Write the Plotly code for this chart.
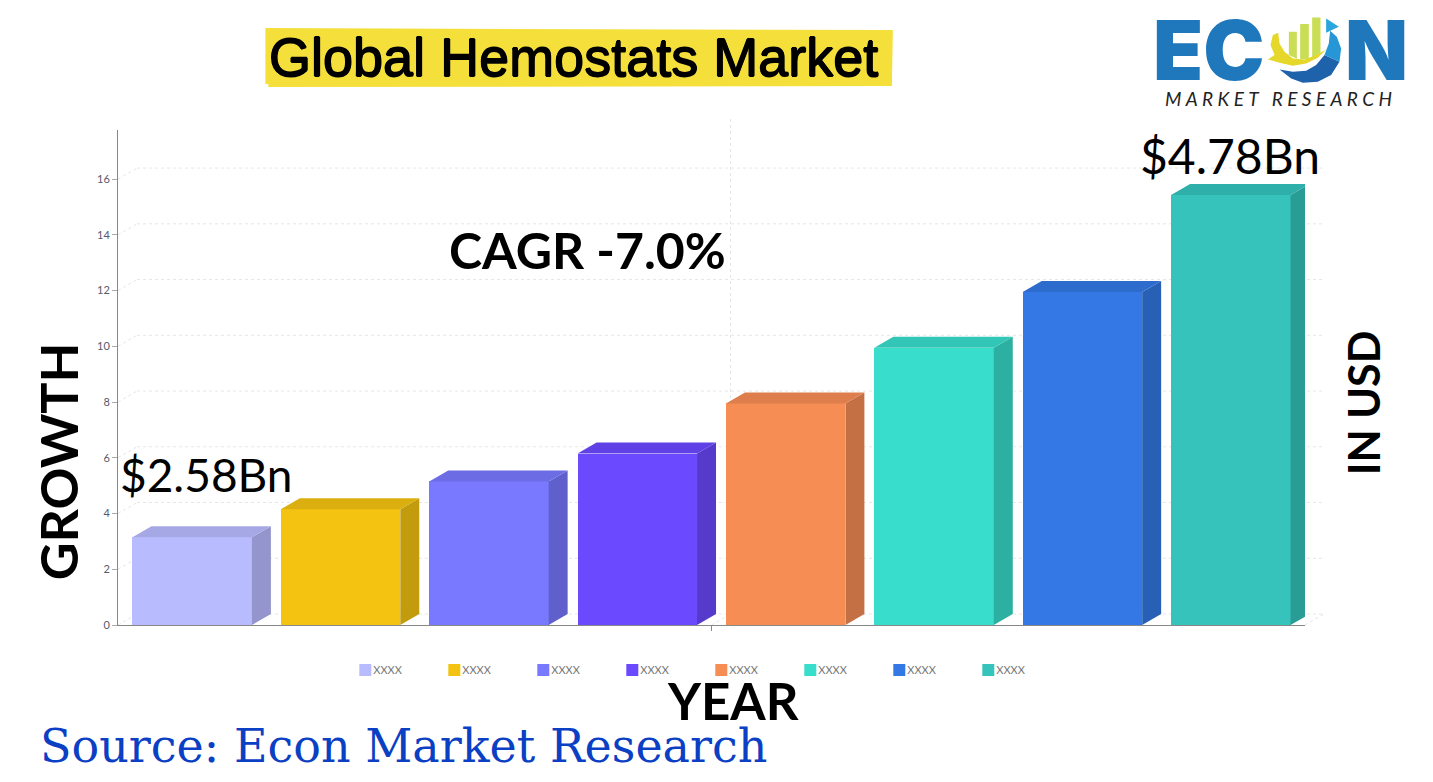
import plotly.graph_objects as go

categories = ["XXXX"] * 8
values = [3.15, 4.15, 5.15, 6.15, 7.95, 9.95, 11.95, 15.43]
colors = ["#B9BBFF", "#F4C311", "#7879FF", "#6B49FF", "#F68D55", "#38DDCB", "#3378E4", "#35C3BC"]
y_ticks = [0, 2, 4, 6, 8, 10, 12, 14, 16]

XMIN, XMAX = -0.5, 7.5
YMIN, YMAX = 0, 17.76
BAR_W = 0.805
DX = 0.128   # depth of the 3D effect, in x units
DY = 0.394   # depth of the 3D effect, in y units
L, R, T, B = 117.5, 1305.5, 130, 625.5


def shade(hex_color, f):
    r, g, b = (int(hex_color[i:i + 2], 16) for i in (1, 3, 5))
    return f"rgb({int(r * f)},{int(g * f)},{int(b * f)})"


def dx2p(x):
    return (x - XMIN) / (XMAX - XMIN)


def dy2p(y):
    return (y - YMIN) / (YMAX - YMIN)


def px(x):
    return (x - L) / (R - L)


def py(y):
    return (B - y) / (B - T)


fig = go.Figure()

for i, (c, v, col) in enumerate(zip(categories, values, colors)):
    fig.add_bar(x=[i], y=[v], width=BAR_W, name=c, marker=dict(color=col, line=dict(width=0)),
                hoverinfo="skip", legendgroup=str(i))

for i, (v, col) in enumerate(zip(values, colors)):
    x0, x1 = i - BAR_W / 2, i + BAR_W / 2
    fig.add_scatter(x=[x1, x1 + DX, x1 + DX, x1, x1], y=[0, DY, v + DY, v, 0], mode="lines", fill="toself",
                    fillcolor=shade(col, 0.8), line=dict(width=0), showlegend=False, hoverinfo="skip",
                    cliponaxis=False)
    fig.add_scatter(x=[x0, x0 + DX, x1 + DX, x1, x0], y=[v, v + DY, v + DY, v, v], mode="lines", fill="toself",
                    fillcolor=shade(col, 0.9), line=dict(width=0), showlegend=False, hoverinfo="skip",
                    cliponaxis=False)

GRID = dict(color="#E6E6E6", width=1, dash="dot")
shapes = []
right = XMAX + DX
for t in y_ticks:
    shapes.append(dict(type="line", xref="paper", yref="paper", layer="below", line=GRID,
                       x0=dx2p(XMIN), y0=dy2p(t), x1=dx2p(XMIN + DX), y1=dy2p(t + DY)))
    shapes.append(dict(type="line", xref="paper", yref="paper", layer="below", line=GRID,
                       x0=dx2p(XMIN + DX), y0=dy2p(t + DY), x1=dx2p(right), y1=dy2p(t + DY)))
shapes.append(dict(type="line", xref="paper", yref="paper", layer="below", line=GRID,
                   x0=dx2p(XMAX), y0=0, x1=dx2p(right), y1=dy2p(DY)))
mid = (XMIN + XMAX) / 2
shapes.append(dict(type="line", xref="paper", yref="paper", layer="below", line=GRID,
                   x0=dx2p(mid), y0=0, x1=dx2p(mid + DX), y1=dy2p(DY)))
shapes.append(dict(type="line", xref="paper", yref="paper", layer="below", line=GRID,
                   x0=dx2p(mid + DX), y0=dy2p(DY), x1=dx2p(mid + DX), y1=py(118)))


def path(points, close=True):
    s = " ".join(("M" if k == 0 else "L") + f"{px(a):.5f},{py(b):.5f}" for k, (a, b) in enumerate(points))
    return s + (" Z" if close else "")


def emblem(points, color):
    """Logo piece; points are given in a small local frame of the emblem."""
    real = [(1260 + a / 3, 10 + b / 3) for a, b in points]
    return dict(type="path", xref="paper", yref="paper", layer="above", path=path(real),
                fillcolor=color, line=dict(width=0))


shapes.append(dict(type="path", xref="paper", yref="paper", layer="below",
                   path=path([(265, 28), (893, 30), (892, 86), (268, 87), (268, 84), (265, 84)]),
                   fillcolor="#F4DF3B", line=dict(width=0)))

shapes.append(emblem([(240, 155), (215, 195), (175, 215), (130, 218), (95, 205), (60, 178),
                      (100, 185), (140, 182), (170, 165), (195, 135)], "#1F62AC"))
shapes.append(emblem([(212, 62), (232, 80), (245, 115), (240, 155), (195, 135), (208, 100)], "#2796D6"))
shapes.append(emblem([(40, 75), (33, 105), (45, 135), (25, 148), (60, 158), (100, 167), (140, 160),
                      (175, 143), (200, 118), (170, 135), (135, 148), (100, 145), (75, 125),
                      (60, 100), (56, 68)], "#E6D82A"))
shapes.append(emblem([(88, 65), (112, 65), (112, 146), (88, 135)], "#C9DE55"))
shapes.append(emblem([(122, 42), (148, 42), (148, 146), (122, 148)], "#C9DE55"))
shapes.append(emblem([(158, 22), (183, 22), (183, 128), (158, 142)], "#C9DE55"))
shapes.append(emblem([(200, 25), (238, 50), (200, 68)], "#2BA5DE"))


def note(text, x, y, size, color="#000000", font="Lato", weight=None, angle=0, shadow=None):
    f = dict(size=size, color=color, family=font)
    if weight:
        f["weight"] = weight
    if shadow:
        f["shadow"] = shadow
    return dict(text=text, x=px(x), y=py(y), xref="paper", yref="paper", showarrow=False,
                xanchor="center", yanchor="middle", font=f, textangle=angle)


THICK = "0.7px 0 0 #000, -0.7px 0 0 #000, 0 0.7px 0 #000, 0 -0.7px 0 #000"
SP = "\u2009\u2009"
annotations = [
    note("Global Hemostats Market", 573, 57, 54, font="Liberation Sans", shadow=THICK),
    note("CAGR -7.0%", 587, 250, 50, weight=700),
    note("$2.58Bn", 205.5, 475, 46),
    note("$4.78Bn", 1230, 156, 48),
    note("GROWTH", 57, 462, 52, weight=700, angle=-90),
    note("IN USD", 1364, 403, 43, weight=700, angle=-90),
    note("YEAR", 733, 701, 51, weight=700),
    note("Source: Econ Market Research", 403, 747, 46, color="#0B3FC4", font="DejaVu Serif"),
    note("EC", 1209, 50, 82, color="#1F77BC", font="Inter", weight=900),
    note("N", 1377, 50, 82, color="#1F77BC", font="Inter", weight=900),
    note("<i>" + SP.join("MARKET") + "\u2003" + SP.join("RESEARCH") + "</i>", 1279, 98, 19, color="#222222"),
]

fig.update_layout(
    width=1433, height=782, margin=dict(l=L, r=1433 - R, t=T, b=782 - B, pad=0, autoexpand=False),
    paper_bgcolor="white", plot_bgcolor="rgba(0,0,0,0)", barmode="overlay", bargap=0,
    showlegend=True, shapes=shapes, annotations=annotations,
    xaxis=dict(range=[XMIN, XMAX], tickmode="array", tickvals=[mid], ticktext=[""], ticks="outside",
               ticklen=5, tickcolor="#888888", showgrid=False, zeroline=False, showline=True,
               linecolor="#888888", linewidth=1),
    yaxis=dict(range=[YMIN, YMAX], tickmode="array", tickvals=y_ticks, ticks="outside", ticklen=5,
               tickcolor="#AAAAAA", showgrid=False, zeroline=False, showline=True, linecolor="#888888",
               linewidth=1, tickfont=dict(family="Lato", size=11, color="#555B6B")),
    legend=dict(orientation="h", x=px(345), y=py(656), xanchor="left", yanchor="top",
                entrywidth=44, entrywidthmode="pixels", traceorder="normal",
                font=dict(family="Lato", size=11, color="#777777"), bgcolor="rgba(0,0,0,0)"),
)

fig.write_html(
    "out.html",
    config=dict(displayModeBar=False),
    post_script="document.body.style.margin='0';"
                "document.querySelectorAll('.legendtext').forEach(function(t){t.setAttribute('x',28);});",
)
